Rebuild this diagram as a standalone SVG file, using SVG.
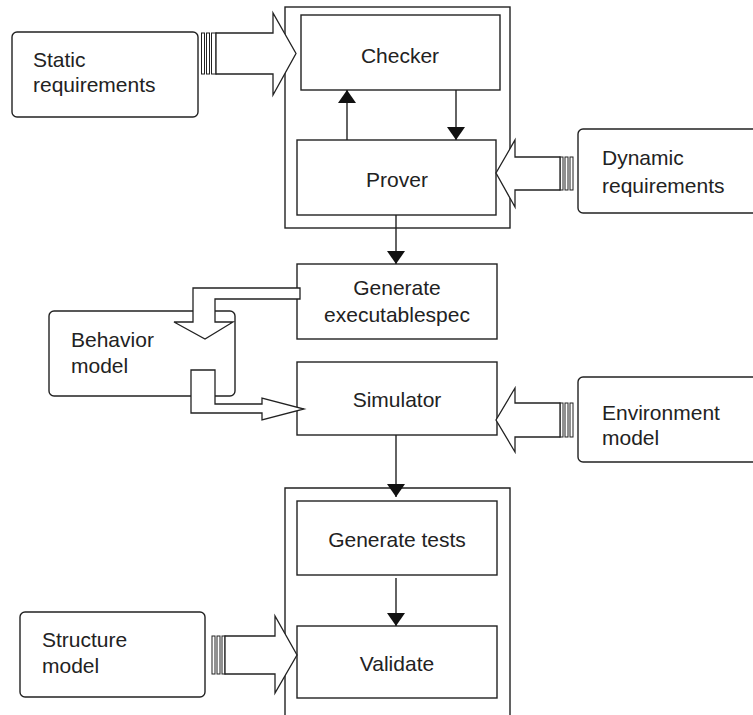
<svg xmlns="http://www.w3.org/2000/svg" width="753" height="715" viewBox="0 0 753 715">
<style>
.box{fill:#fff;stroke:#222;stroke-width:1.4}
.ln{fill:none;stroke:#222;stroke-width:1.4}
.big{fill:#fff;stroke:#222;stroke-width:1.3;stroke-linejoin:miter}
.bar{fill:#fff;stroke:#222;stroke-width:1}
text{font-family:"Liberation Sans",Arial,sans-serif;font-size:21px;fill:#222}
.c{text-anchor:middle}
</style>
<defs>
<marker id="ah" markerWidth="13" markerHeight="18" refX="13" refY="9" orient="auto" markerUnits="userSpaceOnUse">
<path d="M0,0 L13,9 L0,18 Z" fill="#111"/>
</marker>
</defs>
<rect width="753" height="715" fill="#fff"/>

<g id="container-top"><rect class="box" x="285" y="7" width="225" height="221"/></g>
<g id="container-bottom"><path class="ln" d="M285,715 V488 H510 V715"/></g>

<g id="checker"><rect class="box" x="301" y="15" width="199" height="75"/><text class="c" x="400" y="63">Checker</text></g>
<g id="prover"><rect class="box" x="297" y="140" width="199" height="75"/><text class="c" x="397" y="187">Prover</text></g>
<g id="generate-spec"><rect class="box" x="297" y="264" width="200" height="75"/><text class="c" x="397" y="295">Generate</text><text class="c" x="397" y="322">executablespec</text></g>
<g id="simulator"><rect class="box" x="297" y="362" width="200" height="73"/><text class="c" x="397" y="407">Simulator</text></g>
<g id="generate-tests"><rect class="box" x="297" y="501" width="200" height="74"/><text class="c" x="397" y="547">Generate tests</text></g>
<g id="validate"><rect class="box" x="297" y="626" width="200" height="72"/><text class="c" x="397" y="671">Validate</text></g>

<g id="static-req"><rect class="box" x="12" y="32" width="186" height="85" rx="5"/><text x="33" y="67">Static</text><text x="33" y="92">requirements</text></g>
<g id="dynamic-req"><rect class="box" x="578" y="129" width="180" height="84" rx="5"/><text x="602" y="165">Dynamic</text><text x="602" y="193">requirements</text></g>
<g id="behavior-model"><rect class="box" x="49" y="311" width="186" height="85" rx="5"/><text x="71" y="347">Behavior</text><text x="71" y="373">model</text></g>
<g id="environment-model"><rect class="box" x="578" y="377" width="180" height="85" rx="5"/><text x="602" y="420">Environment</text><text x="602" y="445">model</text></g>
<g id="structure-model"><rect class="box" x="20" y="612" width="185" height="85" rx="5"/><text x="42" y="647">Structure</text><text x="42" y="673">model</text></g>

<g id="connectors">
<line class="ln" x1="347" y1="140" x2="347" y2="90" marker-end="url(#ah)"/>
<line class="ln" x1="456" y1="90" x2="456" y2="140" marker-end="url(#ah)"/>
<line class="ln" x1="396" y1="215" x2="396" y2="264" marker-end="url(#ah)"/>
<line class="ln" x1="396" y1="435" x2="396" y2="497" marker-end="url(#ah)"/>
<line class="ln" x1="396" y1="578" x2="396" y2="626" marker-end="url(#ah)"/>

<rect class="bar" x="201.5" y="33" width="3" height="41"/>
<rect class="bar" x="206.5" y="33" width="3" height="41"/>
<rect class="bar" x="211.5" y="33" width="4.5" height="41"/>
<path class="big" d="M216,33 H273 V13 L296,53.5 L273,95 V74 H216 Z"/>

<rect class="bar" x="570" y="157" width="3" height="33"/>
<rect class="bar" x="565" y="157" width="3" height="33"/>
<rect class="bar" x="560" y="157" width="3" height="33"/>
<path class="big" d="M560,157 H515 V140 L496,173 L515,207 V190 H560 Z"/>

<rect class="bar" x="570" y="403" width="3" height="34"/>
<rect class="bar" x="565" y="403" width="3" height="34"/>
<rect class="bar" x="560" y="403" width="3" height="34"/>
<path class="big" d="M560,403 H515 V388 L496,420 L515,452 V437 H560 Z"/>

<rect class="bar" x="212" y="636" width="3" height="38"/>
<rect class="bar" x="217" y="636" width="3" height="38"/>
<rect class="bar" x="222" y="636" width="3" height="38"/>
<path class="big" d="M225,636 H275 V616 L297,655 L275,693 V674 H225 Z"/>

<path class="big" d="M300,288 H193 V322 H174 L205,339 L233,322 H215 V299 H300 Z"/>
<path class="big" d="M191,370 H215 V404 H262 V398 L304,409 L262,420 V413 H191 Z"/>
</g>
</svg>
